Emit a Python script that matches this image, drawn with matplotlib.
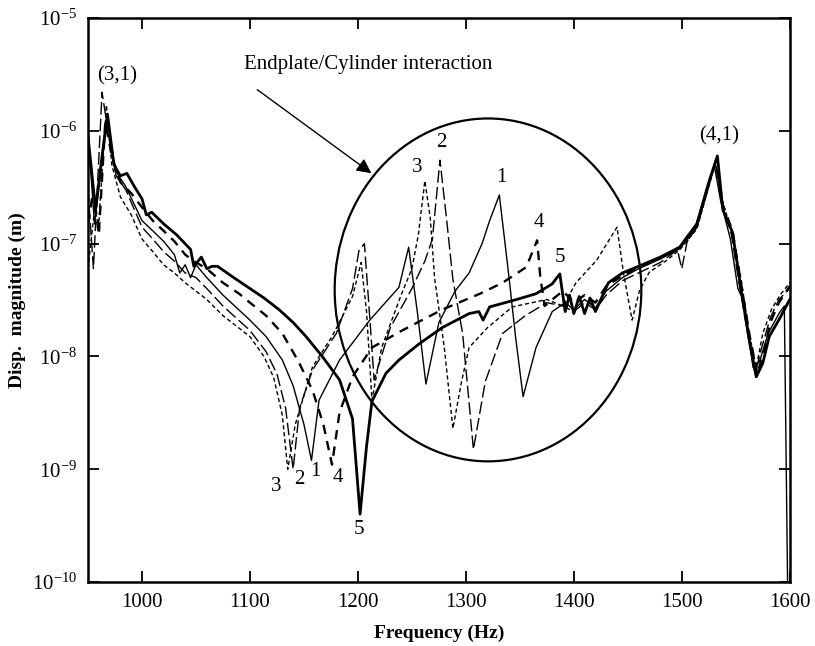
import numpy as np
import matplotlib
matplotlib.use('Agg')
import matplotlib.pyplot as plt
from matplotlib.patches import Ellipse, FancyArrowPatch

plt.rcParams['font.family'] = ['Liberation Serif', 'DejaVu Serif']
plt.rcParams['mathtext.fontset'] = 'stix'

# curve 1: thin solid
f1 = [950, 956, 968, 975, 985, 1000, 1010, 1020, 1030, 1035, 1040, 1045, 1050, 1060, 1075, 1100,
      1115, 1130, 1140, 1150, 1157, 1164, 1183, 1211, 1238, 1247, 1255, 1263, 1275, 1290, 1303,
      1315, 1322, 1331, 1340, 1346, 1353, 1365, 1380, 1392, 1400, 1410, 1420, 1430, 1445, 1460,
      1480, 1498, 1514, 1526, 1530, 1536, 1545, 1552, 1558, 1566, 1572, 1580, 1590, 1595, 1598]
m1 = [9.5e-7, 1.5e-7, 1.4e-6, 4.5e-7, 3.2e-7, 1.6e-7, 1.3e-7, 1.05e-7, 8e-8, 5.5e-8, 6.5e-8, 5e-8,
      6.5e-8, 5e-8, 3.5e-8, 2.1e-8, 1.5e-8, 9.3e-9, 5.5e-9, 2.5e-9, 1.2e-9, 4.1e-9, 9.3e-9, 2.1e-8,
      4.1e-8, 9.3e-8, 2.5e-8, 5.7e-9, 2e-8, 3.8e-8, 5.5e-8, 1e-7, 1.6e-7, 2.7e-7, 5e-8, 1.5e-8,
      4.4e-9, 1.2e-8, 2.5e-8, 3.0e-8, 2.6e-8, 3.2e-8, 2.7e-8, 3.8e-8, 5.0e-8, 6.0e-8, 7.3e-8, 9.0e-8,
      1.4e-7, 3.5e-7, 5e-7, 2.4e-7, 1.1e-7, 4e-8, 3e-8, 8e-9, 9e-9, 1.6e-8, 2.4e-8, 2.8e-8, 1e-10]

# curve 2: long dash
f2 = [950, 955, 963, 970, 976, 985, 1000, 1010, 1020, 1030, 1040, 1050, 1060, 1075, 1100, 1115,
      1125, 1133, 1140, 1146, 1158, 1180, 1195, 1201, 1206, 1210, 1215, 1230, 1250, 1262, 1269,
      1276, 1282, 1288, 1297, 1307, 1318, 1334, 1355, 1375, 1390, 1400, 1410, 1420, 1430, 1445,
      1460, 1480, 1496, 1500, 1505, 1514, 1525, 1531, 1537, 1546, 1553, 1562, 1568, 1574, 1582,
      1590, 1600]
m2 = [3e-7, 6e-8, 2.2e-6, 8e-7, 4e-7, 3e-7, 1.4e-7, 1.1e-7, 8.5e-8, 7e-8, 5.5e-8, 5e-8, 4e-8,
      2.8e-8, 1.7e-8, 1.1e-8, 7e-9, 3.5e-9, 1.0e-9, 3.5e-9, 7.6e-9, 1.6e-8, 4e-8, 8.7e-8, 1.0e-7,
      3e-8, 6.2e-9, 1.8e-8, 4e-8, 7e-8, 1.1e-7, 5.5e-7, 1.7e-7, 4.8e-8, 1.6e-8, 1.5e-9, 6e-9,
      1.6e-8, 2.3e-8, 3e-8, 2.8e-8, 2.5e-8, 3e-8, 2.6e-8, 3.5e-8, 4.7e-8, 5.5e-8, 6.8e-8, 8.8e-8,
      6e-8, 1.05e-7, 1.4e-7, 3.3e-7, 5.3e-7, 2.3e-7, 1.2e-7, 4.5e-8, 1.4e-8, 7e-9, 1.2e-8, 2.2e-8,
      3.2e-8, 4.0e-8]

# curve 3: short dash
f3 = [950, 956, 960, 967, 972, 980, 990, 1000, 1010, 1020, 1030, 1040, 1050, 1060, 1075, 1100,
      1113, 1122, 1130, 1135, 1142, 1158, 1176, 1195, 1203, 1208, 1213, 1222, 1240, 1250, 1256,
      1262, 1267, 1271, 1280, 1288, 1296, 1303, 1320, 1343, 1375, 1390, 1402, 1421, 1440, 1446,
      1454, 1461, 1470, 1485, 1498, 1514, 1525, 1531, 1537, 1546, 1555, 1563, 1569, 1575, 1583,
      1591, 1600]
m3 = [6e-8, 2e-7, 1.5e-7, 1.7e-6, 5e-7, 2.6e-7, 1.8e-7, 1.1e-7, 8.5e-8, 6.5e-8, 5.5e-8, 4.5e-8,
      3.8e-8, 3.2e-8, 2.3e-8, 1.5e-8, 1.0e-8, 6.5e-9, 3e-9, 1.0e-9, 2.5e-9, 8.1e-9, 1.5e-8, 3.4e-8,
      6.8e-8, 2.5e-8, 4.1e-9, 1.2e-8, 3.5e-8, 6e-8, 1.2e-7, 3.6e-7, 1.7e-7, 5e-8, 1.2e-8, 2.3e-9,
      6e-9, 1.2e-8, 1.8e-8, 2.75e-8, 3.2e-8, 2.8e-8, 4.5e-8, 7.1e-8, 1.4e-7, 5.5e-8, 2.1e-8, 3.9e-8,
      5.6e-8, 7e-8, 8.8e-8, 1.35e-7, 3.2e-7, 5.2e-7, 2.5e-7, 1.3e-7, 4.8e-8, 1.5e-8, 8e-9, 1.6e-8,
      2.6e-8, 3.5e-8, 4.5e-8]

# curve 4: thick dash
f4 = [950, 955, 960, 966, 972, 980, 990, 1000, 1010, 1020, 1030, 1040, 1048, 1060, 1075, 1090,
      1100, 1115, 1130, 1145, 1158, 1168, 1176, 1183, 1195, 1213, 1241, 1278, 1313, 1334, 1356,
      1366, 1369, 1373, 1380, 1390, 1400, 1410, 1420, 1430, 1445, 1460, 1480, 1498, 1514, 1525,
      1532, 1538, 1547, 1554, 1563, 1570, 1576, 1582, 1590, 1600]
m4 = [1.5e-7, 3e-7, 1.2e-7, 1.2e-6, 6e-7, 3.5e-7, 2.8e-7, 2.1e-7, 1.6e-7, 1.3e-7, 1.05e-7, 8e-8,
      7e-8, 6e-8, 4.5e-8, 3.6e-8, 3.0e-8, 2.3e-8, 1.6e-8, 9e-9, 5e-9, 2.5e-9, 1.1e-9, 3.2e-9,
      6.6e-9, 1.2e-8, 1.7e-8, 2.6e-8, 3.6e-8, 4.5e-8, 6.2e-8, 1.07e-7, 5e-8, 2.8e-8, 3.2e-8,
      3.8e-8, 3.0e-8, 3.5e-8, 3.0e-8, 4.2e-8, 5.2e-8, 6.2e-8, 7.5e-8, 9.3e-8, 1.5e-7, 3.4e-7,
      5.6e-7, 2.2e-7, 1.3e-7, 5e-8, 1.5e-8, 7e-9, 1.1e-8, 2.0e-8, 3.0e-8, 4.2e-8]

# curve 5: thick solid
f5 = [950, 957, 962, 968, 974, 980, 986, 993, 1000, 1004, 1009, 1020, 1032, 1045, 1048, 1055,
      1060, 1065, 1070, 1085, 1100, 1113, 1127, 1140, 1152, 1167, 1183, 1195, 1202, 1208, 1213,
      1226, 1238, 1257, 1278, 1303, 1312, 1316, 1322, 1347, 1365, 1380, 1387, 1392, 1396, 1400,
      1405, 1410, 1415, 1420, 1425, 1432, 1445, 1460, 1480, 1498, 1514, 1525, 1533, 1538, 1547,
      1554, 1563, 1569, 1575, 1581, 1591, 1600]
m5 = [8.9e-7, 2.0e-7, 5.0e-7, 1.41e-6, 5.0e-7, 4.0e-7, 4.2e-7, 3.2e-7, 2.5e-7, 1.8e-7, 1.9e-7,
      1.5e-7, 1.2e-7, 8.9e-8, 6.3e-8, 7.6e-8, 6.0e-8, 6.3e-8, 6.3e-8, 5.0e-8, 4.0e-8, 3.3e-8,
      2.6e-8, 2.0e-8, 1.5e-8, 1.0e-8, 6.2e-9, 2.8e-9, 4.0e-10, 1.6e-9, 4.0e-9, 7.1e-9, 9.3e-9,
      1.3e-8, 1.8e-8, 2.4e-8, 2.5e-8, 2.1e-8, 2.75e-8, 3.2e-8, 3.6e-8, 4.4e-8, 5.4e-8, 2.5e-8,
      3.5e-8, 2.4e-8, 3.4e-8, 2.4e-8, 3.3e-8, 2.5e-8, 3.2e-8, 4.5e-8, 5.5e-8, 6.3e-8, 7.6e-8,
      9.3e-8, 1.5e-7, 3.5e-7, 6.0e-7, 2.0e-7, 1.26e-7, 4.5e-8, 1.3e-8, 6.6e-9, 8.7e-9, 1.5e-8,
      2.2e-8, 3.2e-8]

# curve number labels (x, y)
low_labels = ['3', '2', '1', '4', '5']
low_x = [1124, 1146, 1161, 1181, 1201]
low_y = [7.1e-10, 8.1e-10, 9.5e-10, 8.5e-10, 2.9e-10]
high_labels = ['3', '2', '1', '4', '5']
high_x = [1255, 1277, 1333, 1368, 1387]
high_y = [4.7e-7, 7.9e-7, 3.9e-7, 1.55e-7, 7.6e-8]

fig = plt.figure(figsize=(8.15, 6.46), dpi=100)
ax = fig.add_axes([0.108, 0.099, 0.861, 0.873])

ax.plot(f1, m1, color='black', lw=1.0)
ax.plot(f2, m2, color='black', lw=1.0, dashes=(9, 3))
ax.plot(f3, m3, color='black', lw=1.0, dashes=(3, 2))
ax.plot(f4, m4, color='black', lw=1.7, dashes=(4, 3))
ax.plot(f5, m5, color='black', lw=2.0)

ax.set_yscale('log')
ax.set_xlim(950, 1600)
ax.set_ylim(1e-10, 1e-5)
ax.set_xticks([1000, 1100, 1200, 1300, 1400, 1500, 1600])
ax.minorticks_off()
ax.tick_params(direction='in', length=8, width=1.3, top=True, right=True, labelsize=15, pad=8)
for s in ax.spines.values():
    s.set_linewidth(1.8)

ax.set_xlabel('Frequency (Hz)', fontsize=14, fontweight='bold', labelpad=9)
ax.set_ylabel('Disp.  magnitude (m)', fontsize=14, fontweight='bold', labelpad=4)

for t, x, y in zip(low_labels, low_x, low_y):
    ax.text(x, y, t, fontsize=15, ha='center', va='center')
for t, x, y in zip(high_labels, high_x, high_y):
    ax.text(x, y, t, fontsize=15, ha='center', va='center')

ax.text(977, 3.1e-6, '(3,1)', fontsize=15, ha='center', va='center')
ax.text(1535, 9.1e-7, '(4,1)', fontsize=15, ha='center', va='center')

ax.add_patch(Ellipse((0.570, 0.518), 0.437, 0.608, transform=ax.transAxes,
                     fill=False, lw=1.6, color='black'))
ax.add_patch(FancyArrowPatch((0.238, 0.876), (0.407, 0.722), transform=ax.transAxes,
                             arrowstyle='-|>', color='black', lw=1.0, mutation_scale=22))
ax.text(0.399, 0.917, 'Endplate/Cylinder interaction', transform=ax.transAxes,
        fontsize=15, ha='center', va='center')

plt.savefig('out.png', dpi=100)
